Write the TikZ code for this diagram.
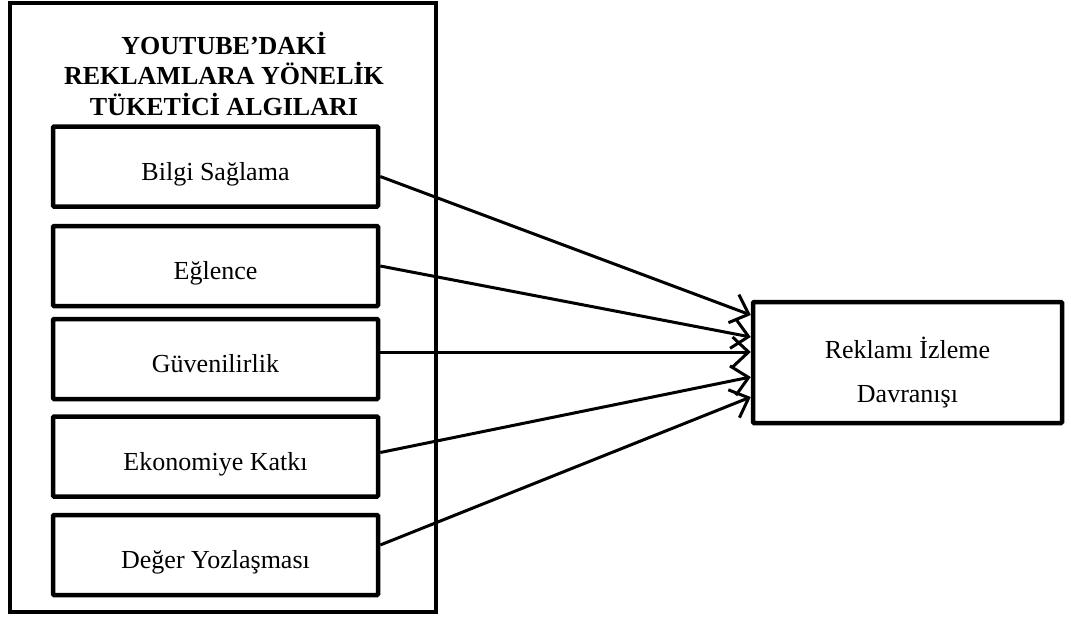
\documentclass[tikz,border=0pt]{standalone}
\usepackage{fontspec}
\setmainfont{Liberation Serif}
\usetikzlibrary{arrows.meta}
\begin{document}
\begin{tikzpicture}[x=1pt,y=-1pt,
  outerbox/.style={draw,line width=3.5pt,inner sep=0pt},
  itembox/.style={draw,line width=4.5pt,rounded corners=1pt,inner sep=0pt,minimum width=325pt,minimum height=80pt},
  itemtext/.style={font=\fontsize{26}{30}\selectfont,anchor=base,inner sep=0pt},
  arr/.style={line width=3pt,-{Straight Barb[length=16pt,width=30pt,line width=3pt]}}]
\useasboundingbox (0,0) rectangle (1071,616);
\node[outerbox,minimum width=426pt,minimum height=609pt] (outer) at (223,307.5) {};
\node[font=\bfseries\fontsize{26}{30.5}\selectfont,align=center,anchor=base,inner sep=0pt] (title) at (224,115) {YOUTUBE’DAKİ\\REKLAMLARA YÖNELİK\\TÜKETİCİ ALGILARI};
\node[itembox] (b1) at (215.5,166.5) {};
\node[itembox] (b2) at (215.5,266) {};
\node[itembox] (b3) at (215.5,359) {};
\node[itembox] (b4) at (215.5,456.5) {};
\node[itembox] (b5) at (215.5,555) {};
\node[itemtext] (t1) at (215.5,180) {Bilgi Sağlama};
\node[itemtext] (t2) at (215.5,279.5) {Eğlence};
\node[itemtext] (t3) at (215.5,372.5) {Güvenilirlik};
\node[itemtext] (t4) at (215.5,470) {Ekonomiye Katkı};
\node[itemtext] (t5) at (215.5,568.5) {Değer Yozlaşması};
\node[draw,line width=4.5pt,rounded corners=1pt,inner sep=0pt,minimum width=309pt,minimum height=121pt] (r) at (907.5,362.5) {};
\node[font=\fontsize{26}{44}\selectfont,align=center,anchor=base,inner sep=0pt] (rt) at (907.5,402) {Reklamı İzleme\\Davranışı};
\draw[arr] ([yshift=-10pt]b1.east) -- ([yshift=47.5pt]r.west);
\draw[arr] ([yshift=0pt]b2.east) -- ([yshift=25.5pt]r.west);
\draw[arr] ([yshift=7pt]b3.east) -- ([yshift=10.5pt]r.west);
\draw[arr] ([yshift=4pt]b4.east) -- ([yshift=-14.5pt]r.west);
\draw[arr] ([yshift=10pt]b5.east) -- ([yshift=-34.5pt]r.west);
\end{tikzpicture}
\end{document}
